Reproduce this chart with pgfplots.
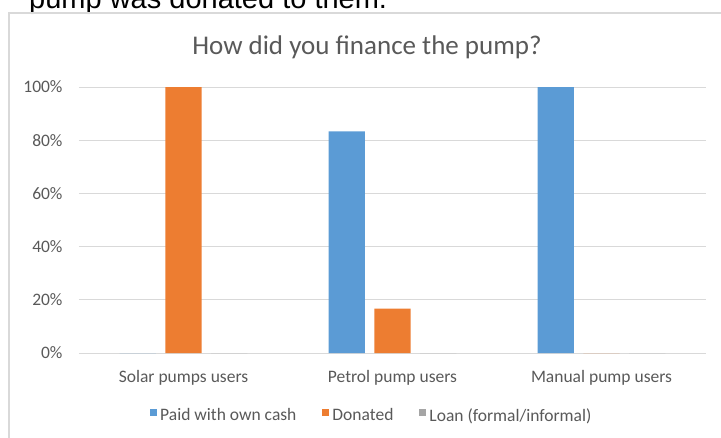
\documentclass[border=0pt]{standalone}
\usepackage{fontspec}
\setmainfont{Carlito}
\newfontfamily\arial{Liberation Sans}
\usepackage{pgfplots}
\pgfplotsset{compat=1.18}
\definecolor{cblue}{HTML}{5B9BD5}
\definecolor{corange}{HTML}{ED7D31}
\definecolor{cgray}{HTML}{A5A5A5}
\definecolor{txt}{HTML}{595959}
\definecolor{gridc}{HTML}{D9D9D9}
\begin{document}
\begin{tikzpicture}
\useasboundingbox (0pt,0pt) rectangle (721pt,437pt);
\begin{scope}
\clip (0pt,0pt) rectangle (721pt,437pt);
\node[anchor=base west, inner sep=0pt, font=\arial\fontsize{29}{34}\selectfont] at (29pt,428pt) {pump was donated to them.};
\draw[gridc, line width=1.2pt] (9pt,-2pt) -- (9pt,424pt) -- (725pt,424pt);
\node[anchor=base, inner sep=0pt, text=txt, font=\fontsize{27}{32}\selectfont] at (367pt,382.7pt) {How did you finance the pump?};
\begin{axis}[
  at={(79pt,84pt)}, anchor=south west,
  scale only axis, width=627pt, height=266pt,
  ybar=9.4pt, bar width=36.3pt,
  xmin=-0.5, xmax=2.5, ymin=0, ymax=100,
  xtick={0,1,2},
  xticklabels={Solar pumps users, Petrol pump users, Manual pump users},
  ytick={0,20,...,100},
  yticklabel={\pgfmathprintnumber{\tick}\%},
  /pgf/number format/assume math mode=true,
  ymajorgrids,
  major grid style={gridc, line width=1pt},
  axis line style={draw=none},
  major tick length=0pt,
  tick label style={text=txt, font=\fontsize{17.5}{21}\selectfont},
  xticklabel style={anchor=base, yshift=-29.7pt, inner sep=0pt},
  yticklabel style={anchor=east, inner sep=0pt, xshift=-16.3pt},
  legend columns=3,
  legend style={draw=none, at={(0.467,-0.235)}, anchor=center,
    font=\fontsize{17.5}{21}\selectfont, text=txt,
    /tikz/every odd column/.append style={column sep=1pt},
    /tikz/every even column/.append style={column sep=24pt}},
  legend image code/.code={\fill[#1] (0pt,-0.5pt) rectangle (7pt,6.5pt);},
]
\addplot[fill=cblue, draw=none] coordinates {(0,0) (1,83.33) (2,100)};
\addplot[fill=corange, draw=none] coordinates {(0,100) (1,16.67) (2,0)};
\addplot[fill=cgray, draw=none] coordinates {(0,0) (1,0) (2,0)};
\legend{Paid with own cash, Donated, Loan (formal/informal)}
\end{axis}
\end{scope}
\end{tikzpicture}
\end{document}
